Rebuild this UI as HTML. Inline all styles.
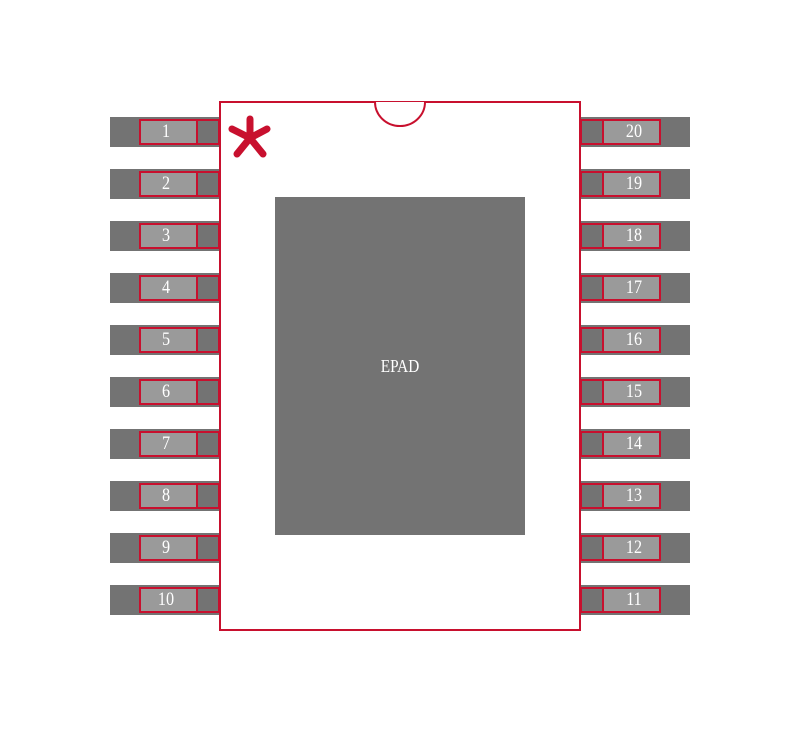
<!DOCTYPE html>
<html><head><meta charset="utf-8"><style>html,body{margin:0;padding:0;background:#fff}</style></head>
<body>
<svg width="800" height="732" viewBox="0 0 800 732" xmlns="http://www.w3.org/2000/svg" font-family="Liberation Serif, serif">
<rect x="0" y="0" width="800" height="732" fill="#fff"/>
<g id="pins"></g>
<rect x="220" y="102" width="360" height="528" fill="#fff" stroke="#c8102e" stroke-width="2"/>
<path d="M375 102 A25 24 0 0 0 425 102" fill="#fff" stroke="#c8102e" stroke-width="2"/>
<rect x="275" y="197" width="250" height="338" fill="#737373"/>
<text x="400" y="372" fill="#fff" font-size="18" text-anchor="middle" transform="translate(400 0) scale(0.85 1) translate(-400 0)">EPAD</text>
<g stroke="#c8102e" stroke-width="7" stroke-linecap="round">
<line x1="250" y1="138" x2="250" y2="119"/>
<line x1="250" y1="138" x2="232" y2="129"/>
<line x1="250" y1="138" x2="267" y2="129"/>
<line x1="250" y1="138" x2="237" y2="154"/>
<line x1="250" y1="138" x2="263" y2="154"/>
</g>
</svg>
<script>
var s='';
for(var i=0;i<10;i++){
 var y=117+52*i;
 s+='<rect x="110" y="'+y+'" width="110" height="30" fill="#737373"/>';
 s+='<rect x="140" y="'+(y+3)+'" width="57" height="24" fill="#9a9a9a"/>';
 s+='<rect x="140" y="'+(y+3)+'" width="79" height="24" fill="none" stroke="#c8102e" stroke-width="2"/>';
 s+='<line x1="197" y1="'+(y+3)+'" x2="197" y2="'+(y+27)+'" stroke="#c8102e" stroke-width="2"/>';
 s+='<text x="166" y="'+(y+20)+'" fill="#fff" font-size="19" text-anchor="middle" transform="translate(166 0) scale(0.85 1) translate(-166 0)">'+(i+1)+'</text>';
 s+='<rect x="580" y="'+y+'" width="110" height="30" fill="#737373"/>';
 s+='<rect x="603" y="'+(y+3)+'" width="57" height="24" fill="#9a9a9a"/>';
 s+='<rect x="581" y="'+(y+3)+'" width="79" height="24" fill="none" stroke="#c8102e" stroke-width="2"/>';
 s+='<line x1="603" y1="'+(y+3)+'" x2="603" y2="'+(y+27)+'" stroke="#c8102e" stroke-width="2"/>';
 s+='<text x="634" y="'+(y+20)+'" fill="#fff" font-size="19" text-anchor="middle" transform="translate(634 0) scale(0.85 1) translate(-634 0)">'+(20-i)+'</text>';
}
document.getElementById('pins').innerHTML=s;
</script>
</body></html>
